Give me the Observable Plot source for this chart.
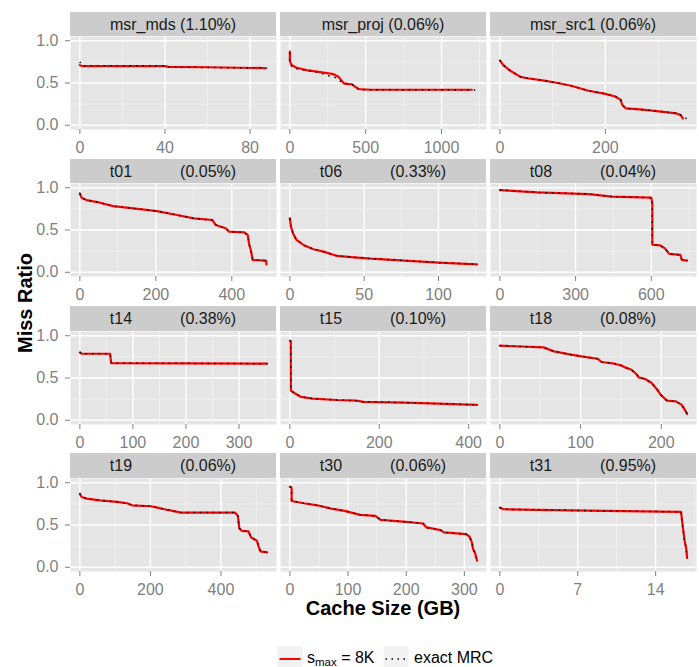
<!DOCTYPE html>
<html>
<head>
<meta charset="utf-8">
<script src="https://cdn.jsdelivr.net/npm/d3@7"></script>
<script src="https://cdn.jsdelivr.net/npm/@observablehq/plot@0.6"></script>
<style>
  html, body { margin: 0; padding: 0; background: #ffffff; }
  #root { position: relative; width: 699px; height: 667px; overflow: hidden;
          font-family: 'Liberation Sans', Arial, Helvetica, sans-serif; }
  .panel { position: absolute; }
  .strip { position: absolute; background: #CCCCCC; color: #1a1a1a; font-size: 16px;
           display: flex; align-items: center; justify-content: center; white-space: pre;
           box-sizing: border-box; padding-top: 1px; }
  .nm { display: inline-block; width: 4.39em; }
</style>
</head>
<body>
<div id="root"></div>
<script>
// ---------------- data ----------------
const panelNames = ["msr_mds","msr_proj","msr_src1","t01","t06","t08","t14","t15","t18","t19","t30","t31"];
const panelRates = ["(1.10%)","(0.06%)","(0.06%)","(0.05%)","(0.33%)","(0.04%)","(0.38%)","(0.10%)","(0.08%)","(0.06%)","(0.06%)","(0.95%)"];

const ticks_msr_mds  = [0, 40, 80];
const ticks_msr_proj = [0, 500, 1000];
const ticks_msr_src1 = [0, 200];
const ticks_t01 = [0, 200, 400];
const ticks_t06 = [0, 50, 100];
const ticks_t08 = [0, 300, 600];
const ticks_t14 = [0, 100, 200, 300];
const ticks_t15 = [0, 200, 400];
const ticks_t18 = [0, 100, 200];
const ticks_t19 = [0, 200, 400];
const ticks_t30 = [0, 100, 200, 300];
const ticks_t31 = [0, 7, 14];
const yTicks = [0, 0.5, 1.0];
const yMinor = [0.25, 0.75];

// s_max = 8K curves  [cache size GB, miss ratio]
const smax_msr_mds = [[0,0.71],[1,0.70],[40,0.70],[41.5,0.69],[60,0.686],[87,0.676]];
const smax_msr_proj = [[0,0.87],[0,0.76],[11,0.712],[44,0.68],[111,0.652],[200,0.628],[289,0.604],[322,0.572],[344,0.52],[360,0.492],[411,0.484],[433,0.452],[456,0.428],[533,0.42],[1200,0.42]];
const smax_msr_src1 = [[0,0.768],[6.5,0.712],[19,0.648],[39,0.572],[52,0.556],[84,0.528],[110,0.50],[135,0.468],[168,0.408],[200,0.372],[219,0.34],[229,0.30],[232,0.24],[239,0.20],[265,0.188],[297,0.168],[335,0.14],[343,0.12],[347,0.08]];
const smax_t01 = [[0,0.933],[4.4,0.882],[17.7,0.854],[53,0.823],[88,0.783],[141,0.756],[203,0.724],[256,0.677],[300,0.638],[349,0.618],[358,0.559],[371,0.539],[384,0.52],[393,0.48],[433,0.472],[442,0.44],[446,0.323],[450,0.264],[455,0.146],[490,0.138],[491,0.094]];
const smax_t06 = [[0,0.638],[0.7,0.539],[2.3,0.453],[4.5,0.382],[9.1,0.323],[15.9,0.272],[22.7,0.244],[31.8,0.193],[43.2,0.177],[54.5,0.161],[77.3,0.138],[100,0.114],[126,0.094]];
const smax_t08 = [[0,0.972],[148,0.945],[351,0.925],[445,0.894],[600,0.882],[604,0.815],[604,0.327],[634,0.319],[654,0.283],[671,0.217],[715,0.205],[721,0.146],[742,0.138]];
const smax_t14 = [[0,0.803],[3,0.787],[57,0.787],[59,0.677],[353,0.669]];
const smax_t15 = [[0,0.941],[2,0.933],[2.3,0.35],[10,0.323],[25,0.276],[51,0.256],[104,0.24],[149,0.232],[165,0.217],[255,0.209],[331,0.197],[419,0.181]];
const smax_t18 = [[0,0.882],[54,0.862],[67,0.815],[88,0.776],[109,0.744],[121,0.728],[126,0.689],[142,0.669],[151,0.646],[155,0.626],[163,0.598],[169,0.547],[172,0.508],[180,0.488],[188,0.441],[195,0.362],[199,0.303],[207,0.232],[218,0.224],[225,0.185],[229,0.126],[232,0.075]];
const smax_t19 = [[0,0.871],[5,0.831],[19,0.812],[57,0.792],[105,0.773],[134,0.757],[148,0.733],[201,0.722],[220,0.706],[249,0.678],[287,0.647],[440,0.647],[448,0.608],[452,0.463],[459,0.431],[478,0.424],[486,0.353],[502,0.314],[507,0.243],[512,0.188],[531,0.176]];
const smax_t30 = [[0,0.953],[3,0.941],[3,0.784],[24,0.757],[47,0.733],[71,0.694],[94,0.667],[121,0.62],[147,0.608],[156,0.561],[200,0.537],[229,0.518],[235,0.471],[259,0.439],[265,0.412],[303,0.392],[309,0.361],[313,0.294],[315,0.216],[318,0.176],[322,0.078]];
const smax_t31 = [[0,0.706],[0.3,0.686],[3.35,0.678],[9.43,0.667],[16.28,0.655],[16.43,0.49],[16.6,0.314],[16.74,0.227],[16.83,0.11]];

// exact MRC curves (where they visibly differ from s_max they are given separately)
const exact_msr_mds = [[0,0.75],[0.8,0.71],[1.5,0.70],[40,0.70],[41.5,0.688],[60,0.684],[88,0.674]];
const exact_msr_proj = [[0,0.86],[4,0.72],[11,0.70],[44,0.668],[78,0.656],[122,0.642],[167,0.632],[211,0.614],[244,0.59],[289,0.574],[322,0.54],[344,0.505],[411,0.48],[433,0.44],[467,0.42],[1235,0.416]];
const exact_msr_src1 = [[0,0.768],[6.5,0.712],[19,0.648],[39,0.572],[52,0.556],[84,0.528],[110,0.50],[135,0.468],[168,0.408],[200,0.372],[219,0.34],[229,0.30],[232,0.24],[239,0.20],[265,0.188],[297,0.168],[335,0.14],[343,0.12],[347,0.09],[355,0.08]];
const exact_t01 = [[0,0.93],[4.4,0.882],[17.7,0.852],[53,0.823],[88,0.781],[141,0.756],[203,0.724],[256,0.677],[300,0.636],[349,0.618],[358,0.559],[371,0.539],[384,0.52],[393,0.48],[433,0.472],[442,0.44],[446,0.323],[450,0.264],[455,0.146],[490,0.136],[493,0.094]];
const exact_t06 = smax_t06;
const exact_t08 = smax_t08;
const exact_t14 = [[0,0.808],[3,0.787],[57,0.787],[59,0.69],[60,0.677],[353,0.669]];
const exact_t15 = smax_t15;
const exact_t18 = smax_t18;
const exact_t19 = smax_t19;
const exact_t30 = smax_t30;
const exact_t31 = smax_t31;

const smaxSeries  = [smax_msr_mds, smax_msr_proj, smax_msr_src1, smax_t01, smax_t06, smax_t08, smax_t14, smax_t15, smax_t18, smax_t19, smax_t30, smax_t31];
const exactSeries = [exact_msr_mds, exact_msr_proj, exact_msr_src1, exact_t01, exact_t06, exact_t08, exact_t14, exact_t15, exact_t18, exact_t19, exact_t30, exact_t31];
const tickSets = [ticks_msr_mds, ticks_msr_proj, ticks_msr_src1, ticks_t01, ticks_t06, ticks_t08, ticks_t14, ticks_t15, ticks_t18, ticks_t19, ticks_t30, ticks_t31];

// ---------------- layout ----------------
const FONT = "'Liberation Sans', Arial, Helvetica, sans-serif";
const colLeft = [70, 280, 490];
const panelW = 206;
const stripH = 24.4;
const panelH = 93;
const rowTop = r => 11.85 + 147.15 * r;
const root = document.getElementById("root");

function minorOf(t, dom) {
  const step = t[1] - t[0];
  const out = [t[0] - step / 2];
  for (let i = 0; i < t.length; i++) out.push(t[i] + step / 2);
  return out.filter(v => v > dom[0] && v < dom[1]);
}

panelNames.forEach((name, i) => {
  const r = Math.floor(i / 3), c = i % 3;
  const sm = smaxSeries[i], ex = exactSeries[i], tk = tickSets[i];
  const xmax = Math.max(d3.max(sm, d => d[0]), d3.max(ex, d => d[0]));
  const dom = [-0.05 * xmax, 1.05 * xmax];
  const mL = c === 0 ? colLeft[0] : 0;
  const top = rowTop(r);

  // strip
  const s = document.createElement("div");
  s.className = "strip";
  s.style.left = colLeft[c] + "px";
  s.style.top = top + "px";
  s.style.width = panelW + "px";
  s.style.height = stripH + "px";
  if (name.startsWith("msr")) {
    s.textContent = name + " " + panelRates[i];
  } else {
    const a = document.createElement("span"); a.className = "nm"; a.textContent = name;
    const b = document.createElement("span"); b.textContent = panelRates[i];
    s.appendChild(a); s.appendChild(b);
  }
  root.appendChild(s);

  const marks = [
    Plot.frame({fill: "#E5E5E5"}),
    Plot.gridX(minorOf(tk, dom), {stroke: "#F2F2F2", strokeOpacity: 1, strokeWidth: 0.8}),
    Plot.gridY(yMinor, {stroke: "#F2F2F2", strokeOpacity: 1, strokeWidth: 0.8}),
    Plot.gridX(tk, {stroke: "#FFFFFF", strokeOpacity: 1, strokeWidth: 1.3}),
    Plot.gridY(yTicks, {stroke: "#FFFFFF", strokeOpacity: 1, strokeWidth: 1.3}),
    Plot.line(sm, {x: d => d[0], y: d => d[1], stroke: "#FF0000", strokeWidth: 2.2}),
    Plot.line(ex, {x: d => d[0], y: d => d[1], stroke: "#000000", strokeWidth: 1.5,
                   strokeDasharray: "1.5,5", strokeLinecap: "butt"}),
    Plot.axisX(tk, {tickSize: 5, tickPadding: 7, fontSize: 16, stroke: "#7F7F7F", fill: "#7F7F7F",
                    tickFormat: d => String(d), label: null})
  ];
  if (c === 0) {
    marks.push(Plot.axisY(yTicks, {tickSize: 5, tickPadding: 7, fontSize: 16, stroke: "#7F7F7F", fill: "#7F7F7F",
                                   tickFormat: d => d.toFixed(1), label: null}));
  }

  const chart = Plot.plot({
    width: mL + panelW,
    height: panelH + 30,
    marginLeft: mL, marginRight: 0, marginTop: 0, marginBottom: 30,
    x: {domain: dom, axis: null},
    y: {domain: [-0.05, 1.05], axis: null},
    style: {fontFamily: FONT, overflow: "visible", background: "none", color: "#7F7F7F"},
    marks
  });
  chart.classList.add("panel");
  chart.style.left = (c === 0 ? 0 : colLeft[c]) + "px";
  chart.style.top = (top + stripH) + "px";
  root.appendChild(chart);
});

// titles + legend
const ns = "http://www.w3.org/2000/svg";
const ov = document.createElementNS(ns, "svg");
ov.setAttribute("width", 699); ov.setAttribute("height", 667);
ov.style.position = "absolute"; ov.style.left = "0"; ov.style.top = "0"; ov.style.pointerEvents = "none";
ov.style.fontFamily = FONT;
ov.innerHTML = `
  <text x="383" y="614.5" text-anchor="middle" font-size="20" font-weight="bold" fill="#000">Cache Size (GB)</text>
  <text transform="translate(32,303) rotate(-90)" text-anchor="middle" font-size="20" font-weight="bold" fill="#000">Miss Ratio</text>
  <rect x="277" y="645.5" width="26" height="26" fill="#F2F2F2" stroke="#fff" stroke-width="1"/>
  <line x1="279.5" x2="300.5" y1="659" y2="659" stroke="#FF0000" stroke-width="2"/>
  <text x="307" y="662.5" font-size="16" fill="#000">s<tspan font-size="11.5" dy="3.5">max</tspan><tspan dy="-3.5"> = 8K</tspan></text>
  <rect x="383" y="645.5" width="26" height="26" fill="#F2F2F2" stroke="#fff" stroke-width="1"/>
  <line x1="385.5" x2="407" y1="659" y2="659" stroke="#000" stroke-width="1.5" stroke-dasharray="1.5,4.5"/>
  <text x="414" y="662.5" font-size="16" fill="#000">exact MRC</text>
`;
root.appendChild(ov);
</script>
</body>
</html>
